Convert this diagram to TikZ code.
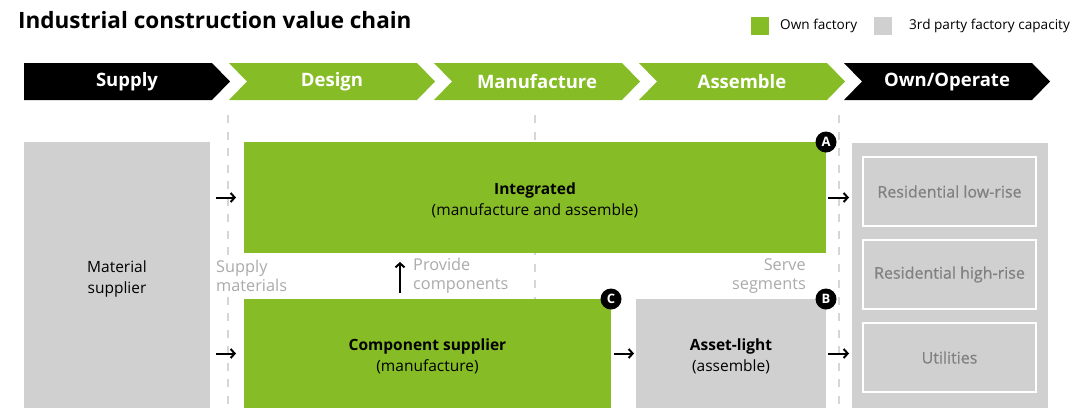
\documentclass[tikz,border=0pt]{standalone}
\usepackage{fontspec}
\setmainfont{Open Sans}
\usetikzlibrary{arrows.meta,calc}
\definecolor{owngreen}{HTML}{86BC25}
\definecolor{thirdgray}{HTML}{D0D0D0}
\definecolor{guidegray}{HTML}{D6D6D6}
\definecolor{notegray}{HTML}{ABABAB}
\definecolor{segtext}{HTML}{808080}
\begin{document}
\begin{tikzpicture}[x=1pt,y=-1pt,
  block/.style={inner sep=0pt, outer sep=0pt, anchor=north west},
  owned/.style={block, fill=owngreen},
  third/.style={block, fill=thirdgray},
  caption/.style={inner sep=0pt, align=center, font=\fontsize{15.5}{21}\selectfont},
  segbox/.style={block, fill=thirdgray, draw=white, line width=2.5pt,
    minimum width=173pt, minimum height=69pt, text=segtext,
    font=\fontsize{16}{20}\selectfont\addfontfeature{FakeBold=0.6}},
  stagelabel/.style={text=white, font=\bfseries\fontsize{18.5}{18.5}\selectfont},
  badge/.style={circle, fill=black, text=white, minimum size=21pt, inner sep=0pt,
    font=\bfseries\fontsize{13}{13}\selectfont},
  flow/.style={line width=2pt, -{Straight Barb[length=4pt,width=9pt]}},
  note/.style={text=notegray, fill=white, font=\fontsize{16.3}{19}\selectfont, inner sep=0pt},
  guide/.style={guidegray, line width=2.5pt, dash pattern=on 8pt off 8.5pt},
  legend/.style={font=\fontsize{13.6}{13.6}\selectfont, anchor=west, inner sep=0pt}
]
\useasboundingbox (0,0) rectangle (1071,408);

% title
\node[anchor=base west, inner sep=0pt, font=\bfseries\fontsize{22.5}{22.5}\selectfont] (title) at (18,28)
  {Industrial construction value chain};

% legend
\node[fill=owngreen, minimum size=18pt, inner sep=0pt, anchor=north west] (lgown) at (751,17) {};
\node[legend] (lgowntext) at (780,26) {Own factory};
\node[fill=thirdgray, minimum size=18pt, inner sep=0pt, anchor=north west] (lgthird) at (874,17) {};
\node[legend] (lgthirdtext) at (909,26) {3rd party factory capacity};

% value chain stages
\foreach \i/\name/\col in {0/Supply/black, 1/Design/owngreen, 2/Manufacture/owngreen,
                           3/Assemble/owngreen, 4/Own\slash Operate/black} {
  \pgfmathsetmacro{\xa}{24+205*\i}
  \ifnum\i=0
    \fill[\col] (\xa,63) -- (\xa+188,63) -- (\xa+206,81.5) -- (\xa+188,100) -- (\xa,100) -- cycle;
  \else
    \fill[\col] (\xa,63) -- (\xa+188,63) -- (\xa+206,81.5) -- (\xa+188,100) -- (\xa,100)
      -- (\xa+18,81.5) -- cycle;
  \fi
  \node[stagelabel] (stage\i) at (\xa+103,82) {\name};
}

% stage guides
\draw[guide] (228,115) -- (228,408);
\draw[guide] (535,115) -- (535,408);
\draw[guide] (839,115) -- (839,408);

% players
\node[third, minimum width=186pt, minimum height=266pt] (mat) at (24,142) {};
\node[owned, minimum width=582pt, minimum height=111pt] (int) at (244,142) {};
\node[owned, minimum width=367pt, minimum height=109pt] (comp) at (244,299) {};
\node[third, minimum width=190pt, minimum height=109pt] (asset) at (636,299) {};

\node[caption] (matcap) at ([yshift=-4pt]mat.center) {Material\\supplier};
\node[caption] (intcap) at ([yshift=-3pt]int.center) {\textbf{Integrated}\\(manufacture and assemble)};
\node[caption] (compcap) at ([yshift=-3pt]comp.center) {\textbf{Component supplier}\\(manufacture)};
\node[caption] (assetcap) at ([yshift=-3pt]asset.center) {\textbf{Asset-light}\\(assemble)};

% segments
\node[third, minimum width=196pt, minimum height=265pt] (segs) at (852,143) {};
\node[segbox] (low) at (863,157) {Residential low-rise};
\node[segbox] (high) at (863,240) {Residential high-rise};
\node[segbox] (util) at (863,323) {Utilities};

% badges
\node[badge] (A) at (int.north east) {A};
\node[badge] (B) at (asset.north east) {B};
\node[badge] (C) at (comp.north east) {C};

% flows
\draw[flow] ([xshift=6pt]mat.east |- int.west) -- ([xshift=-8pt]int.west);
\draw[flow] ([xshift=6pt]mat.east |- comp.west) -- ([xshift=-8pt]comp.west);
\draw[flow] ([xshift=2pt]int.east) -- ([xshift=-3pt]int.east -| segs.west);
\draw[flow] ([xshift=3pt]comp.east) -- ([xshift=-2pt]asset.west);
\draw[flow] ([xshift=2pt]asset.east) -- ([xshift=-3pt]asset.east -| segs.west);
\draw[flow] ([xshift=156pt,yshift=6pt]comp.north west) -- ([xshift=156pt,yshift=-9pt]int.south west);

% flow notes
\node[note, anchor=west, align=left] (supnote) at (216,276) {Supply\\materials};
\node[note, anchor=west, align=left] (provnote) at (413,276) {Provide\\components};
\node[note, anchor=east, align=right] (servenote) at (806,276) {Serve\\segments};
\end{tikzpicture}
\end{document}
